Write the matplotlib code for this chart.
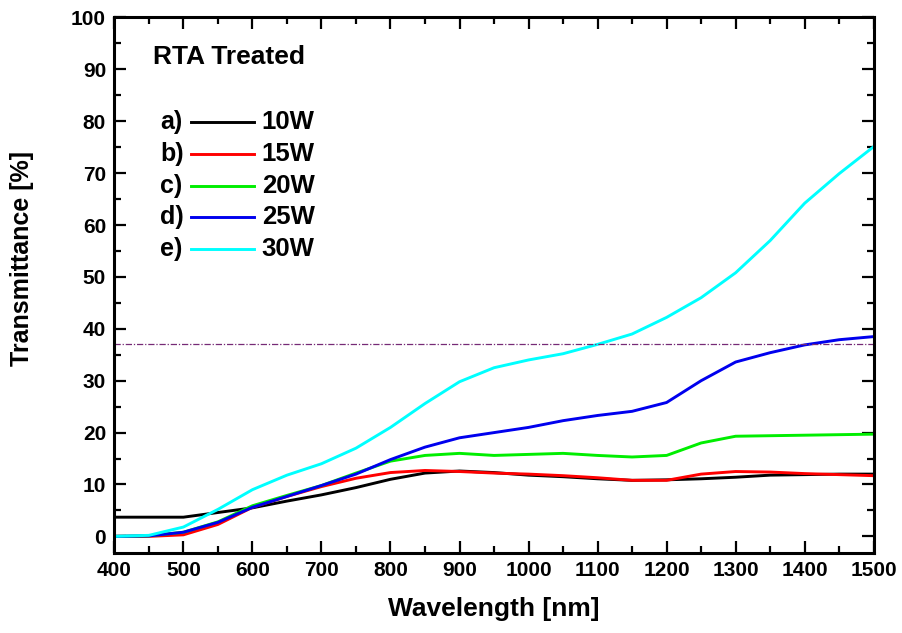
import numpy as np
import matplotlib
matplotlib.use('Agg')
import matplotlib.pyplot as plt
from matplotlib.ticker import MultipleLocator

plt.rcParams['font.family'] = ['Liberation Sans', 'DejaVu Sans']
plt.rcParams['font.weight'] = 'bold'

# Transmittance spectra after RTA, one curve per sputtering power
wavelength = [400, 450, 500, 550, 600, 650, 700, 750, 800, 850, 900, 950,
              1000, 1050, 1100, 1150, 1200, 1250, 1300, 1350, 1400, 1450, 1500]
t_10w = [3.7, 3.7, 3.7, 4.6, 5.5, 6.8, 8.0, 9.4, 11.0, 12.2, 12.6, 12.3,
         11.8, 11.5, 11.1, 10.8, 10.9, 11.1, 11.4, 11.8, 11.9, 12.0, 12.0]
t_15w = [0.0, 0.0, 0.3, 2.3, 5.6, 7.7, 9.6, 11.2, 12.3, 12.7, 12.5, 12.2,
         12.0, 11.7, 11.3, 10.8, 10.8, 12.0, 12.5, 12.4, 12.1, 11.9, 11.7]
t_20w = [0.0, 0.1, 0.8, 2.8, 5.9, 7.9, 9.8, 12.2, 14.5, 15.6, 16.0, 15.6,
         15.8, 16.0, 15.6, 15.3, 15.6, 18.0, 19.3, 19.4, 19.5, 19.6, 19.7]
t_25w = [0.0, 0.1, 0.8, 2.7, 5.6, 7.7, 9.8, 12.0, 14.8, 17.2, 19.0, 20.0,
         21.0, 22.3, 23.3, 24.1, 25.8, 30.0, 33.6, 35.4, 36.9, 37.9, 38.5]
t_30w = [0.0, 0.2, 1.8, 5.2, 9.0, 11.8, 14.0, 17.0, 21.0, 25.6, 29.8, 32.5,
         34.0, 35.2, 37.0, 39.0, 42.2, 46.0, 50.8, 57.0, 64.2, 69.9, 75.1]

series = [t_10w, t_15w, t_20w, t_25w, t_30w]
prefixes = ['a)', 'b)', 'c)', 'd)', 'e)']
labels = ['10W', '15W', '20W', '25W', '30W']
colors = ['black', '#ff0000', '#00ee00', '#0000ee', '#00ffff']
ref_level = 37

fig = plt.figure(figsize=(9.02, 6.33), dpi=100)
ax = fig.add_axes([0.1268, 0.1264, 0.8418, 0.846])

for y, c in zip(series, colors):
    ax.plot(wavelength, y, color=c, lw=2.1, solid_joinstyle='round')

ax.axhline(ref_level, color='#762a76', lw=0.9, linestyle=(0, (5, 1.5, 1, 1.5)))

ax.set_xlim(400, 1500)
ax.set_ylim(-3.2, 100)
ax.xaxis.set_major_locator(MultipleLocator(100))
ax.xaxis.set_minor_locator(MultipleLocator(50))
ax.yaxis.set_major_locator(MultipleLocator(10))
ax.yaxis.set_minor_locator(MultipleLocator(5))
ax.tick_params(which='both', direction='in', top=True, right=True, width=1.6)
ax.tick_params(which='major', length=8.5, labelsize=15, pad=6)
ax.tick_params(which='minor', length=5)
for lab in ax.get_xticklabels() + ax.get_yticklabels():
    lab.set_fontweight('bold')
for sp in ax.spines.values():
    sp.set_linewidth(2.2)

ax.set_xlabel('Wavelength [nm]', fontsize=19, fontweight='bold', labelpad=12)
ax.set_ylabel('Transmittance [%]', fontsize=18, fontweight='bold')
ax.yaxis.set_label_coords(-0.106, 0.549)

# hand-built key: "a)  ——  10W" rows under the title
ax.text(0.051, 0.926, 'RTA Treated', transform=ax.transAxes, fontsize=19,
        fontweight='bold', va='center', ha='left')
row_y = 0.805
for i, (p, lab, c) in enumerate(zip(prefixes, labels, colors)):
    yy = row_y - i * 0.0595
    ax.text(0.060, yy, p, transform=ax.transAxes, fontsize=18,
            fontweight='bold', va='center', ha='left')
    ax.plot([0.101, 0.184], [yy, yy], transform=ax.transAxes, color=c, lw=2.1)
    ax.text(0.194, yy, lab, transform=ax.transAxes, fontsize=18.5,
            fontweight='bold', va='center', ha='left')

fig.savefig('out.png', dpi=100)
